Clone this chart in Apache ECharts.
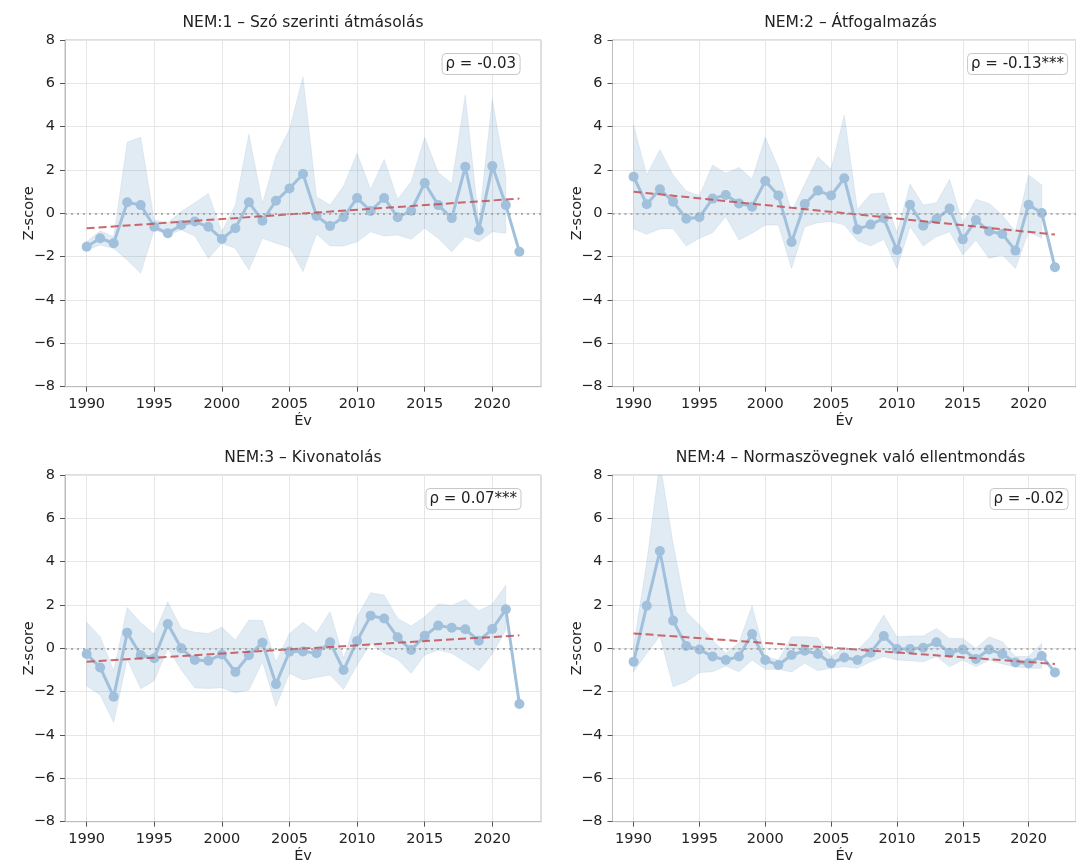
<!DOCTYPE html>
<html><head><meta charset="utf-8">
<script src="https://cdn.jsdelivr.net/npm/echarts@6/dist/echarts.min.js"></script>
<style>html,body{margin:0;padding:0;background:#fff}#c{width:1076px;height:867px}</style>
</head><body><div id="c"></div>
<script>
const years = [1990,1991,1992,1993,1994,1995,1996,1997,1998,1999,2000,2001,2002,2003,2004,2005,2006,2007,2008,2009,2010,2011,2012,2013,2014,2015,2016,2017,2018,2019,2020,2021,2022];
const tickYears = [1990,1995,2000,2005,2010,2015,2020];
const yTicks = [-8,-6,-4,-2,0,2,4,6,8];
const titles = ["NEM:1 – Szó szerinti átmásolás","NEM:2 – Átfogalmazás","NEM:3 – Kivonatolás","NEM:4 – Normaszövegnek való ellentmondás"];
const rhoLabels = ["ρ = -0.03","ρ = -0.13***","ρ = 0.07***","ρ = -0.02"];

const vals1 = [-1.54,-1.15,-1.38,0.51,0.38,-0.62,-0.92,-0.54,-0.38,-0.62,-1.18,-0.69,0.51,-0.34,0.58,1.15,1.82,-0.12,-0.58,-0.18,0.71,0.11,0.71,-0.18,0.12,1.40,0.38,-0.22,2.15,-0.78,2.18,0.38,-1.77];
const up1 = [-1.31,-0.8,-1.08,3.29,3.51,-0.31,-0.43,0.08,0.49,0.92,-0.85,0.38,3.66,0.46,2.65,3.88,6.31,0.77,0.38,1.26,2.77,1.11,2.49,0.65,1.46,3.51,1.88,1.38,5.46,-0.38,5.26,1.69];
const lo1 = [-1.69,-1.46,-1.62,-2.15,-2.77,-0.74,-1.0,-0.77,-1.05,-2.08,-1.38,-1.62,-2.62,-1.15,-1.38,-1.57,-2.69,-0.95,-1.51,-1.51,-1.31,-0.85,-1.05,-1.0,-1.2,-0.69,-1.15,-1.77,-1.08,-1.31,-0.85,-0.92];
const trend1 = [-0.69,0.68];

const vals2 = [1.69,0.42,1.11,0.54,-0.25,-0.18,0.68,0.85,0.46,0.31,1.49,0.82,-1.32,0.43,1.05,0.82,1.62,-0.74,-0.52,-0.23,-1.69,0.40,-0.57,-0.26,0.22,-1.2,-0.31,-0.83,-0.95,-1.72,0.40,0.02,-2.49];
const up2 = [4.08,1.77,2.95,1.77,1.03,0.82,2.23,1.85,2.12,1.58,3.51,2.12,0.08,1.35,2.62,2.03,4.54,0.18,0.89,0.95,-0.9,1.35,0.38,0.49,1.57,-0.46,0.65,0.46,-0.08,-0.85,1.77,1.31];
const lo2 = [-0.72,-0.97,-0.72,-0.71,-1.51,-1.15,-0.89,-0.15,-1.23,-0.92,-0.54,-0.54,-2.54,-0.62,-0.43,-0.38,-0.54,-1.26,-1.51,-1.2,-2.54,-0.62,-1.51,-1.08,-0.85,-1.92,-1.23,-2.08,-1.92,-2.54,-0.85,-1.15];
const trend2 = [1.0,-0.98];

const vals3 = [-0.26,-0.88,-2.23,0.72,-0.31,-0.46,1.12,0.0,-0.54,-0.57,-0.28,-1.09,-0.32,0.26,-1.65,-0.15,-0.14,-0.23,0.28,-1.0,0.34,1.51,1.38,0.51,-0.08,0.58,1.05,0.95,0.88,0.35,0.89,1.8,-2.57];
const up3 = [1.2,0.54,-1.03,1.88,1.18,0.66,2.15,0.92,0.74,0.69,0.97,0.38,1.31,1.28,-0.62,0.69,1.2,0.72,1.69,-0.46,1.46,2.57,2.46,1.38,1.03,1.46,2.05,1.98,2.26,1.74,2.03,2.92];
const lo3 = [-1.74,-2.15,-3.42,-0.51,-1.86,-1.49,0.0,-1.0,-1.83,-1.85,-1.82,-2.05,-1.92,-0.62,-2.69,-1.15,-1.46,-1.34,-1.23,-1.89,-0.77,0.23,-0.23,-0.51,-1.15,-0.31,-0.08,-0.23,-0.62,-1.03,-0.26,0.85];
const trend3 = [-0.62,0.6];

const vals4 = [-0.62,1.97,4.49,1.28,0.11,-0.05,-0.38,-0.54,-0.38,0.66,-0.54,-0.77,-0.31,-0.11,-0.26,-0.69,-0.42,-0.54,-0.2,0.57,-0.03,-0.03,0.03,0.28,-0.2,-0.05,-0.49,-0.05,-0.26,-0.65,-0.69,-0.35,-1.11];
const up4 = [0.08,4.0,8.6,4.85,1.69,1.08,0.38,-0.23,0.26,1.97,-0.38,-0.54,0.54,0.54,0.49,-0.38,0.05,-0.08,0.54,1.54,0.54,0.57,0.57,0.92,0.46,0.46,0.0,0.54,0.31,-0.38,-0.38,0.23];
const lo4 = [-1.08,-0.23,0.57,-1.77,-1.54,-1.12,-1.08,-0.82,-1.08,-0.54,-0.97,-0.97,-1.09,-0.69,-1.03,-0.92,-0.85,-0.92,-0.62,-0.38,-0.54,-0.57,-0.62,-0.38,-0.85,-0.54,-0.85,-0.54,-0.72,-0.85,-0.92,-0.92];
const trend4 = [0.69,-0.72];

const FONT = "DejaVu Sans";
const panels = [
  {vals: vals1, up: up1, lo: lo1, trend: trend1},
  {vals: vals2, up: up2, lo: lo2, trend: trend2},
  {vals: vals3, up: up3, lo: lo3, trend: trend3},
  {vals: vals4, up: up4, lo: lo4, trend: trend4}
];
const gridPos = [
  {left: 65, top: 40}, {left: 612.5, top: 40},
  {left: 65, top: 475}, {left: 612.5, top: 475}
];
const GW = 476, GH = 346.7;
const LINE_COLOR = '#a0c0dc';

const grid = [], xAxis = [], yAxis = [], series = [], title = [];
panels.forEach((p, k) => {
  const g = gridPos[k];
  grid.push({left: g.left, top: g.top, width: GW, height: GH, show: true,
    borderColor: '#bdbdbd', borderWidth: 1, backgroundColor: 'transparent', containLabel: false});
  xAxis.push({type: 'value', gridIndex: k, min: 1988.4, max: 2023.6,
    axisLine: {show: true, onZero: false, lineStyle: {color: '#bdbdbd', width: 1}},
    axisTick: {show: true, length: 5, customValues: tickYears, lineStyle: {color: '#555'}},
    axisLabel: {customValues: tickYears, color: '#222', fontSize: 14.5, fontFamily: FONT, margin: 10,
      formatter: v => String(v)},
    splitLine: {show: true, lineStyle: {color: '#e6e6e6', width: 1}},
    name: 'Év', nameLocation: 'middle', nameGap: 27,
    nameTextStyle: {color: '#222', fontSize: 14.5, fontFamily: FONT}
  });
  yAxis.push({type: 'value', gridIndex: k, min: -8, max: 8, interval: 2,
    axisLine: {show: true, onZero: false, lineStyle: {color: '#bdbdbd', width: 1}},
    axisTick: {show: true, length: 5, lineStyle: {color: '#555'}},
    axisLabel: {color: '#222', fontSize: 14.5, fontFamily: FONT, margin: 10,
      formatter: v => v < 0 ? '\u2212' + Math.abs(v) : String(v)},
    splitLine: {show: true, lineStyle: {color: '#e6e6e6', width: 1}},
    name: 'Z-score', nameLocation: 'middle', nameGap: 28, nameMoveOverlap: false,
    nameTextStyle: {color: '#222', fontSize: 14.5, fontFamily: FONT}
  });
  const bandYears = years.slice(0, p.up.length);
  const bandData = bandYears.map((y, i) => [y, p.lo[i], p.up[i]]);
  series.push({type: 'custom', xAxisIndex: k, yAxisIndex: k, silent: true, z: 1,
    data: bandData,
    encode: {x: 0, y: [1, 2]},
    renderItem: (params, api) => {
      if (params.dataIndex !== 0) return null;
      const upper = bandData.map(d => api.coord([d[0], d[2]]));
      const lower = bandData.map(d => api.coord([d[0], d[1]])).reverse();
      const cs = params.coordSys;
      return {type: 'polygon', shape: {points: upper.concat(lower)},
        style: {fill: 'rgba(70,130,180,0.16)', stroke: 'rgba(70,130,180,0.10)', lineWidth: 1},
        clipPath: {type: 'rect', shape: {x: cs.x, y: cs.y, width: cs.width, height: cs.height}}};
    },
    markLine: {silent: true, symbol: ['none', 'none'], label: {show: false},
      lineStyle: {color: '#999', type: [2, 4], width: 1.5}, data: [{yAxis: 0}]}
  });
  series.push({type: 'line', xAxisIndex: k, yAxisIndex: k,
    data: years.map((y, i) => [y, p.vals[i]]), symbol: 'circle', symbolSize: 10,
    itemStyle: {color: LINE_COLOR}, lineStyle: {color: LINE_COLOR, width: 3}, z: 3
  });
  series.push({type: 'line', xAxisIndex: k, yAxisIndex: k,
    data: [[years[0], p.trend[0]], [years[years.length - 1], p.trend[1]]], symbol: 'none',
    lineStyle: {color: 'rgba(196,78,82,0.85)', width: 2, type: [8, 4]}, z: 4
  });
  title.push({text: titles[k], left: g.left + GW / 2, textAlign: 'center', top: g.top - 25,
    padding: 0, textStyle: {fontSize: 15.5, fontWeight: 'normal', color: '#222', fontFamily: FONT}});
});
const boxPos = [
  {right: 556, top: 53}, {right: 8, top: 53}, {right: 555, top: 488}, {right: 8, top: 488}
];
rhoLabels.forEach((t, k) => {
  title.push({text: t, right: boxPos[k].right, top: boxPos[k].top, padding: [4, 4, 3, 4],
    backgroundColor: 'rgba(255,255,255,0.85)', borderColor: '#c8c8c8', borderWidth: 1, borderRadius: 4,
    textStyle: {fontSize: 15, fontWeight: 'normal', color: '#222', fontFamily: FONT}});
});

const chart = echarts.init(document.getElementById('c'), null, {renderer: 'canvas'});
chart.setOption({animation: false, backgroundColor: '#fff', title, grid, xAxis, yAxis, series});
</script>
</body></html>
